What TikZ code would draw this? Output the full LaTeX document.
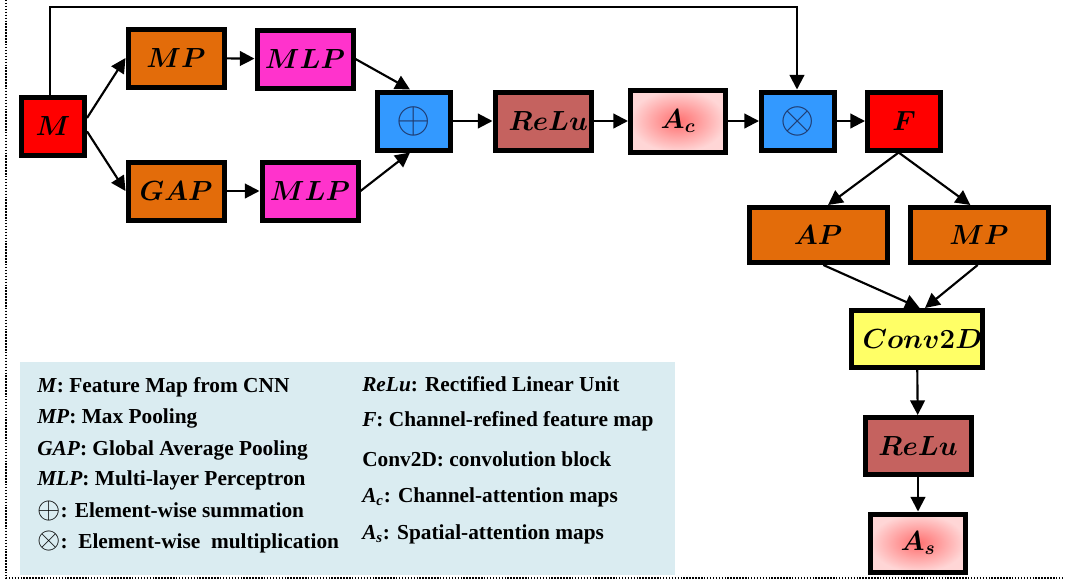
\documentclass[tikz,border=0pt]{standalone}
\usepackage{fontspec}
\usepackage{amsmath}
\usepackage{graphicx}
\newfontfamily\legfont{Liberation Serif}
\usetikzlibrary{arrows.meta}
\definecolor{cRed}{HTML}{FF0000}
\definecolor{cOrange}{HTML}{E36C0A}
\definecolor{cMag}{HTML}{FF33CC}
\definecolor{cBlue}{HTML}{3399FF}
\definecolor{cRelu}{HTML}{C5625F}
\definecolor{cYellow}{HTML}{FFFF66}
\definecolor{cLeg}{HTML}{DAECF1}
\definecolor{cNavy}{HTML}{1F3A6E}
\definecolor{cPinkIn}{HTML}{FF7070}
\definecolor{cPinkOut}{HTML}{FFD6D6}
\begin{document}
\begin{tikzpicture}[x=0.75pt,y=-0.75pt,
  blk/.style={draw=black, line width=3.75pt, inner sep=0pt,
    font=\fontsize{21}{24}\selectfont\boldmath},
  std/.style={minimum width=72pt, minimum height=43.5pt},
  opbox/.style={minimum width=54.75pt, minimum height=43.5pt, fill=cBlue,
    font=\fontsize{20}{24}\selectfont},
  attn/.style={shading=radial, inner color=cPinkIn, outer color=cPinkOut},
  arr/.style={-{Triangle[length=11pt,width=11pt]}, line width=1.6pt},
  legtxt/.style={anchor=west, inner sep=0pt,
    font=\legfont\bfseries\fontsize{16}{18}\selectfont},
  dotline/.style={line width=1.1pt, dash pattern=on 1.1pt off 1.1pt}
]
\useasboundingbox (0,0) rectangle (1065,583);

% frame
\coordinate (fTL) at (6,0);
\coordinate (fBL) at (6,578);
\coordinate (fBR) at (1065,578);
\draw[dotline] (fTL) -- (fBL) -- (fBR);

% legend
\node[fill=cLeg, minimum width=491.25pt, minimum height=159.75pt, inner sep=0pt,
  anchor=north west] (leg) at (20,362) {};
\node[legtxt] (l1) at (37,387) {\textit{M}: Feature Map from CNN};
\node[legtxt] (l2) at (37,418) {\textit{MP}: Max Pooling};
\node[legtxt] (l3) at (37,450) {\textit{GAP}: Global Average Pooling};
\node[legtxt] (l4) at (37,480) {\textit{MLP}: Multi-layer Perceptron};
\node[legtxt] (l5) at (37,511) {\raisebox{-0.5pt}{\scalebox{1.3}{$\oplus$}}: Element-wise summation};
\node[legtxt] (l6) at (37,542) {\raisebox{-0.5pt}{\scalebox{1.3}{$\otimes$}}:\ \ Element-wise\ \ multiplication};
\node[legtxt] (r1) at (362,384) {\textit{ReLu}: Rectified Linear Unit};
\node[legtxt] (r2) at (362,421) {\textit{F}: Channel-refined feature map};
\node[legtxt] (r3) at (362,459) {Conv2D: convolution block};
\node[legtxt] (r4) at (362,497) {\textit{A}\textsubscript{\textit{c}}: Channel-attention maps};
\node[legtxt] (r5) at (362,534) {\textit{A}\textsubscript{\textit{s}}: Spatial-attention maps};

% nodes
\node[blk, fill=cRed, minimum width=47.25pt, minimum height=43.5pt] (M) at (53,126) {$M$};
\node[blk, std, fill=cOrange] (MP1) at (176,58) {$MP$};
\node[blk, std, fill=cMag] (MLP1) at (305,59) {$MLP$};
\node[blk, std, fill=cOrange] (GAP) at (176,191) {$GAP$};
\node[blk, std, fill=cMag] (MLP2) at (310,191) {$MLP$};
\node[blk, opbox] (Op) at (414,121) {\color{cNavy}\scalebox{1.6}{$\oplus$}};
\node[blk, std, fill=cRelu] (R1) at (543,121) {\hspace*{8pt}$ReLu$};
\node[blk, attn, minimum width=71.25pt, minimum height=46.5pt] (Ac) at (678,121) {$A_c$};
\node[blk, opbox] (Ot) at (798,121) {\color{cNavy}\scalebox{1.6}{$\otimes$}};
\node[blk, fill=cRed, minimum width=54.75pt, minimum height=43.5pt] (F) at (904,121) {$F$};
\node[blk, fill=cOrange, minimum width=103.5pt, minimum height=41.25pt] (AP) at (818,235) {$AP$};
\node[blk, fill=cOrange, minimum width=103.5pt, minimum height=41.25pt] (MP2) at (979,235) {$MP$};
\node[blk, fill=cYellow, minimum width=91.5pt, minimum height=42.75pt] (C2) at (917,339) {\hspace*{8pt}$Conv2D$};
\node[blk, fill=cRelu, minimum width=79.5pt, minimum height=42.75pt] (R2) at (918,446) {$ReLu$};
\node[blk, attn, minimum width=71.25pt, minimum height=43.5pt] (As) at (918,543) {$A_s$};

% connectors
\coordinate (topline) at (0,7);
\draw[arr] ([xshift=-2.25pt]M.north) -- ([xshift=-2.25pt]M.north |- topline)
  -- ([xshift=-0.75pt]Ot.north |- topline) -- ([xshift=-0.75pt]Ot.north);
\draw[arr] ([yshift=6pt]M.east) -- (MP1.west);
\draw[arr] ([yshift=-4pt]M.east) -- (GAP.west);
\draw[arr] (MP1) -- (MLP1);
\draw[arr] (GAP) -- (MLP2);
\draw[arr] (MLP1.east) -- ([xshift=-3pt]Op.north);
\draw[arr] (MLP2.east) -- ([xshift=-3pt]Op.south);
\draw[arr] (Op) -- (R1);
\draw[arr] (R1) -- (Ac);
\draw[arr] (Ac) -- (Ot);
\draw[arr] (Ot) -- (F);
\draw[arr] ([xshift=-4pt]F.south) -- ([xshift=7.5pt]AP.north);
\draw[arr] ([xshift=-4pt]F.south) -- ([xshift=-6.5pt]MP2.north);
\draw[arr] ([xshift=4pt]AP.south) -- ([xshift=2pt]C2.north);
\draw[arr] ([xshift=-1pt]MP2.south) -- ([xshift=6pt]C2.north);
\draw[arr] (C2) -- (R2);
\draw[arr] (R2) -- (As);
\end{tikzpicture}
\end{document}
